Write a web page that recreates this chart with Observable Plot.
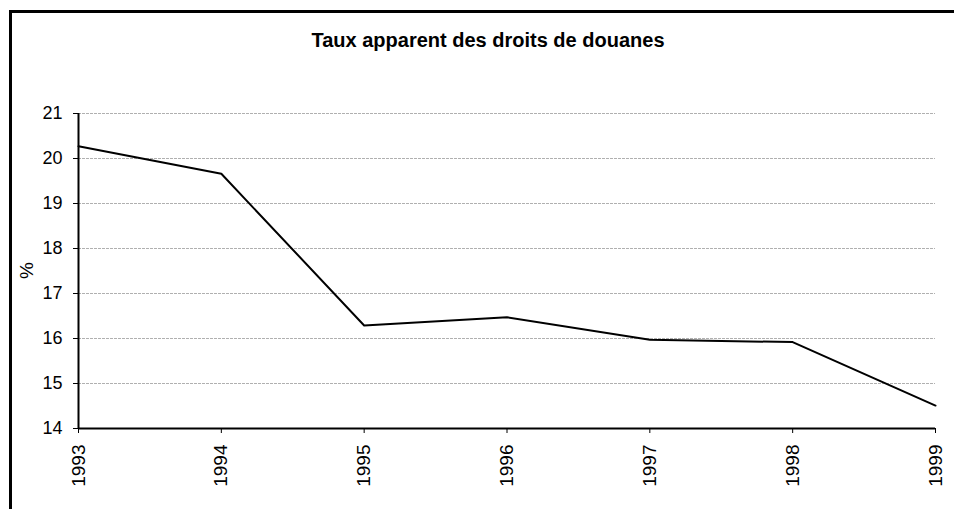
<!DOCTYPE html>
<html>
<head>
<meta charset="utf-8">
<script src="https://cdn.jsdelivr.net/npm/d3@7"></script>
<script src="https://cdn.jsdelivr.net/npm/@observablehq/plot@0.6"></script>
<style>
  html, body { margin: 0; padding: 0; background: #fff; overflow: hidden; }
  #wrap { position: relative; width: 954px; height: 509px; overflow: hidden; background: #fff; font-family: "Liberation Sans", Arial, sans-serif; }
  #lineLeft { position: absolute; left: 9px; top: 10px; width: 2.5px; height: 499px; background: #000; }
  #lineTop { position: absolute; left: 9px; top: 10px; width: 945px; height: 2.5px; background: #000; }
  #title { position: absolute; left: 300px; width: 376px; top: 29px; text-align: center; font-weight: bold; font-size: 20px; color: #000; white-space: nowrap; }
  #chart { position: absolute; left: 0; top: 0; }
</style>
</head>
<body>
<div id="wrap">
  <div id="lineLeft"></div>
  <div id="lineTop"></div>
  <div id="title">Taux apparent des droits de douanes</div>
  <div id="chart"></div>
</div>
<script>
const years = [1993, 1994, 1995, 1996, 1997, 1998, 1999];
const rates = [20.27, 19.66, 16.29, 16.47, 15.97, 15.92, 14.51];
const yTicks = [14, 15, 16, 17, 18, 19, 20, 21];
const yLabel = "%";

const data = years.map((y, i) => ({year: y, rate: rates[i]}));

const chart = Plot.plot({
  width: 954,
  height: 509,
  marginLeft: 78,
  marginRight: 19,
  marginTop: 113,
  marginBottom: 81,
  style: {fontFamily: "'Liberation Sans', Arial, sans-serif", fontSize: "18px", color: "#000", background: "transparent"},
  x: {domain: [1993, 1999]},
  y: {domain: [14, 21]},
  marks: [
    Plot.gridY(yTicks.filter(d => d > 14), {stroke: "#b0b0b0", strokeOpacity: 1, strokeDasharray: "3,1", strokeWidth: 1}),
    Plot.ruleX([1993], {stroke: "#000", strokeWidth: 2}),
    Plot.ruleY([14], {stroke: "#000", strokeWidth: 2}),
    Plot.axisY(yTicks, {tickSize: 5, tickPadding: 11, label: null, fontSize: 18}),
    Plot.axisX(years, {tickSize: 5, tickPadding: 11, tickRotate: -90, tickFormat: d => String(d), label: null, fontSize: 19}),
    Plot.text([yLabel], {frameAnchor: "left", dx: -52, dy: 8, rotate: -90, fontSize: 19, text: d => d}),
    Plot.line(data, {x: "year", y: "rate", stroke: "#000", strokeWidth: 2})
  ]
});
document.getElementById("chart").appendChild(chart);
</script>
</body>
</html>
